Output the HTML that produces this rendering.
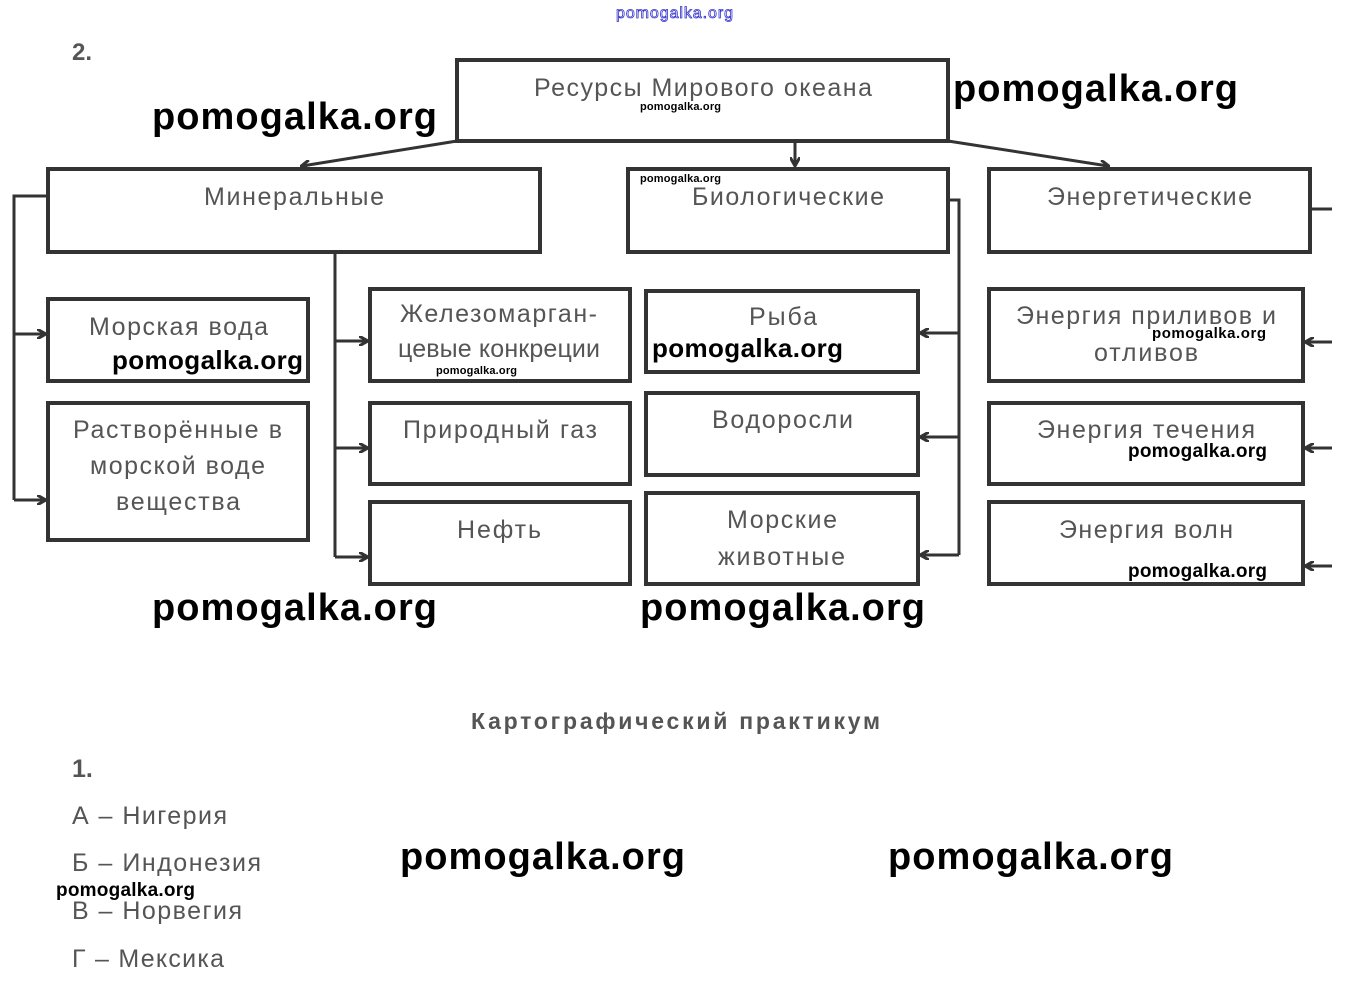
<!DOCTYPE html>
<html><head><meta charset="utf-8"><style>
html,body{margin:0;padding:0;background:#fff;}
svg{display:block}
.t{font-family:"Liberation Sans",sans-serif;fill:#555;font-size:25px;}
.w{font-family:"Liberation Sans",sans-serif;fill:#000;font-weight:bold;}
</style></head><body>
<svg width="1347" height="983" viewBox="0 0 1347 983" xmlns="http://www.w3.org/2000/svg">
<defs><marker id="a" markerWidth="10" markerHeight="10" refX="8" refY="5" orient="auto" markerUnits="userSpaceOnUse"><path d="M0,0 L9,5 L0,10" fill="none" stroke="#333" stroke-width="3"/></marker></defs>
<text x="616" y="18" font-family="Liberation Sans" font-size="16" fill="#fff" stroke="#33c" stroke-width="0.8" textLength="117" lengthAdjust="spacing">pomogalka.org</text>
<text x="72" y="60" font-family="Liberation Sans" font-size="24" font-weight="bold" fill="#555">2.</text>
<g fill="none" stroke="#333" stroke-width="4">
<rect x="457" y="60" width="491" height="81"/>
<rect x="48" y="169" width="492" height="83"/>
<rect x="628" y="169" width="320" height="83"/>
<rect x="989" y="169" width="321" height="83"/>
<rect x="48" y="299" width="260" height="82"/>
<rect x="48" y="403" width="260" height="137"/>
<rect x="370" y="289" width="260" height="92"/>
<rect x="370" y="403" width="260" height="81"/>
<rect x="370" y="502" width="260" height="82"/>
<rect x="646" y="291" width="272" height="81"/>
<rect x="646" y="393" width="272" height="82"/>
<rect x="646" y="493" width="272" height="91"/>
<rect x="989" y="289" width="314" height="92"/>
<rect x="989" y="403" width="314" height="81"/>
<rect x="989" y="502" width="314" height="82"/>
</g>
<g fill="none" stroke="#333" stroke-width="3">
<path d="M457,141 L302,166" marker-end="url(#a)"/>
<path d="M795,141 L795,165" marker-end="url(#a)"/>
<path d="M948,141 L1108,166" marker-end="url(#a)"/>
<path d="M46,196 L14,196 L14,500"/>
<path d="M14,334 L45,334" marker-end="url(#a)"/>
<path d="M14,500 L45,500" marker-end="url(#a)"/>
<path d="M335,252 L335,557"/>
<path d="M335,341 L367,341" marker-end="url(#a)"/>
<path d="M335,448 L367,448" marker-end="url(#a)"/>
<path d="M335,557 L367,557" marker-end="url(#a)"/>
<path d="M949,200 L959,200 L959,555"/>
<path d="M959,333 L921,333" marker-end="url(#a)"/>
<path d="M959,437 L921,437" marker-end="url(#a)"/>
<path d="M959,555 L921,555" marker-end="url(#a)"/>
<path d="M1311,209 L1332,209"/>
<path d="M1332,342 L1306,342" marker-end="url(#a)"/>
<path d="M1332,448 L1306,448" marker-end="url(#a)"/>
<path d="M1332,566 L1306,566" marker-end="url(#a)"/>
</g>
<g class="t" lengthAdjust="spacing">
<text x="534" y="96" textLength="338">Ресурсы Мирового океана</text>
<text x="204" y="205" textLength="180">Минеральные</text>
<text x="692" y="205" textLength="192">Биологические</text>
<text x="1047" y="205" textLength="205">Энергетические</text>
<text x="89" y="335" textLength="179">Морская вода</text>
<text x="73" y="438" textLength="209">Растворённые в</text>
<text x="90" y="474" textLength="175">морской воде</text>
<text x="116" y="510" textLength="124">вещества</text>
<text x="400" y="322" textLength="197">Железомарган-</text>
<text x="398" y="357" textLength="202">цевые конкреции</text>
<text x="403" y="438" textLength="194">Природный газ</text>
<text x="457" y="538" textLength="84">Нефть</text>
<text x="749" y="325" textLength="68">Рыба</text>
<text x="712" y="428" textLength="141">Водоросли</text>
<text x="727" y="528" textLength="110">Морские</text>
<text x="718" y="565" textLength="127">животные</text>
<text x="1016" y="324" textLength="260">Энергия приливов и</text>
<text x="1094" y="361" textLength="104">отливов</text>
<text x="1037" y="438" textLength="218">Энергия течения</text>
<text x="1059" y="538" textLength="174">Энергия волн</text>
<text x="471" y="729" font-weight="bold" font-size="23" textLength="409">Картографический практикум</text>
<text x="72" y="777" font-weight="bold">1.</text>
<text x="72" y="824" textLength="155">А – Нигерия</text>
<text x="72" y="871" textLength="189">Б – Индонезия</text>
<text x="72" y="919" textLength="170">В – Норвегия</text>
<text x="72" y="967" textLength="152">Г – Мексика</text>
</g>
<g class="w" font-size="38">
<text x="152" y="129" textLength="285" lengthAdjust="spacing">pomogalka.org</text>
<text x="953" y="101" textLength="285" lengthAdjust="spacing">pomogalka.org</text>
<text x="152" y="620" textLength="285" lengthAdjust="spacing">pomogalka.org</text>
<text x="640" y="620" textLength="285" lengthAdjust="spacing">pomogalka.org</text>
<text x="400" y="869" textLength="285" lengthAdjust="spacing">pomogalka.org</text>
<text x="888" y="869" textLength="285" lengthAdjust="spacing">pomogalka.org</text>
</g>
<g class="w" font-size="26">
<text x="112" y="369" textLength="191" lengthAdjust="spacing">pomogalka.org</text>
<text x="652" y="357" textLength="191" lengthAdjust="spacing">pomogalka.org</text>
</g>
<g class="w" font-size="19">
<text x="1128" y="457" textLength="139" lengthAdjust="spacing">pomogalka.org</text>
<text x="1128" y="577" textLength="139" lengthAdjust="spacing">pomogalka.org</text>
<text x="56" y="896" textLength="139" lengthAdjust="spacing">pomogalka.org</text>
</g>
<g class="w" font-size="15">
<text x="1152" y="338" textLength="114" lengthAdjust="spacing">pomogalka.org</text>
</g>
<g class="w" font-size="11">
<text x="640" y="110" textLength="81" lengthAdjust="spacing">pomogalka.org</text>
<text x="640" y="182" textLength="81" lengthAdjust="spacing">pomogalka.org</text>
<text x="436" y="374" textLength="81" lengthAdjust="spacing">pomogalka.org</text>
</g>
</svg>
</body></html>
